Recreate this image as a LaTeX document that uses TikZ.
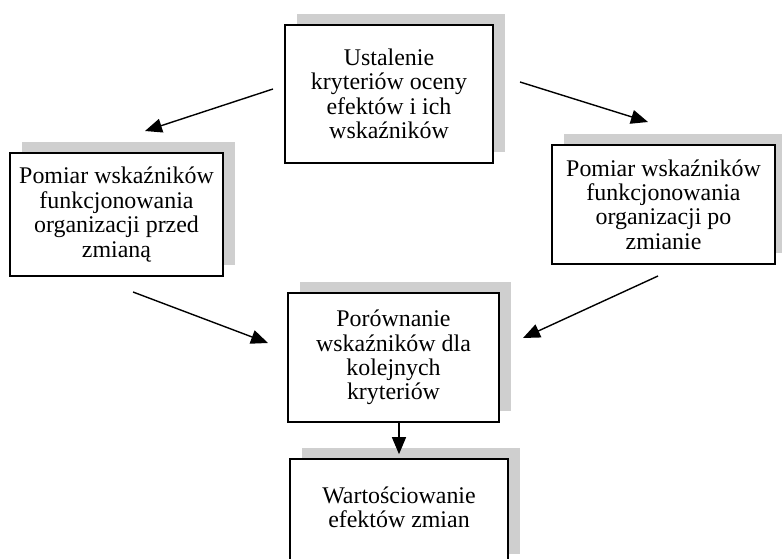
\documentclass[tikz,border=0pt]{standalone}
\usepackage{fontspec}
\setmainfont{Liberation Serif}
\usetikzlibrary{arrows.meta,shadows}
\begin{document}
\begin{tikzpicture}[x=1bp,y=-1bp,
  stepbox/.style={draw=black, line width=1.6bp, fill=white, align=center,
    inner sep=0pt, font=\fontsize{24}{24.5}\selectfont,
    general shadow={shadow xshift=12bp, shadow yshift=11bp, fill=gray!38, draw=none}},
  conn/.style={line width=1.4bp, -{Triangle[length=17bp,width=14bp]}}]
\useasboundingbox (0,0) rectangle (782,559);
\clip (0,0) rectangle (782,559);

% boxes
\node[stepbox, minimum width=208bp, minimum height=138bp] (top) at (389,94)
  {Ustalenie\\kryteriów oceny\\efektów i ich\\wskaźników};
\node[stepbox, minimum width=213bp, minimum height=123bp] (before) at (116.5,214.5)
  {Pomiar wskaźników\\funkcjonowania\\organizacji przed\\zmianą};
\node[stepbox, minimum width=223bp, minimum height=119bp] (after) at (663.5,204.5)
  {Pomiar wskaźników\\funkcjonowania\\organizacji po\\zmianie};
\node[stepbox, minimum width=211bp, minimum height=129bp] (cmp) at (393.5,357.5)
  {Porównanie\\wskaźników dla\\kolejnych\\kryteriów};
\node[stepbox, minimum width=218bp, minimum height=106bp, text depth=10bp] (eval) at (399,512)
  {Wartościowanie\\efektów zmian};

% connector ends
\coordinate (a1s) at (273,89);  \coordinate (a1e) at (145,131);
\coordinate (a2s) at (520,82);  \coordinate (a2e) at (648,122);
\coordinate (a3s) at (133,292); \coordinate (a3e) at (268,343);
\coordinate (a4s) at (658,276); \coordinate (a4e) at (523,338);

% connectors
\draw[conn] (a1s) -- (a1e);
\draw[conn] (a2s) -- (a2e);
\draw[conn] (a3s) -- (a3e);
\draw[conn] (a4s) -- (a4e);
\draw[conn] (eval.north |- cmp.south) -- ([yshift=4bp]eval.north);
\end{tikzpicture}
\end{document}
